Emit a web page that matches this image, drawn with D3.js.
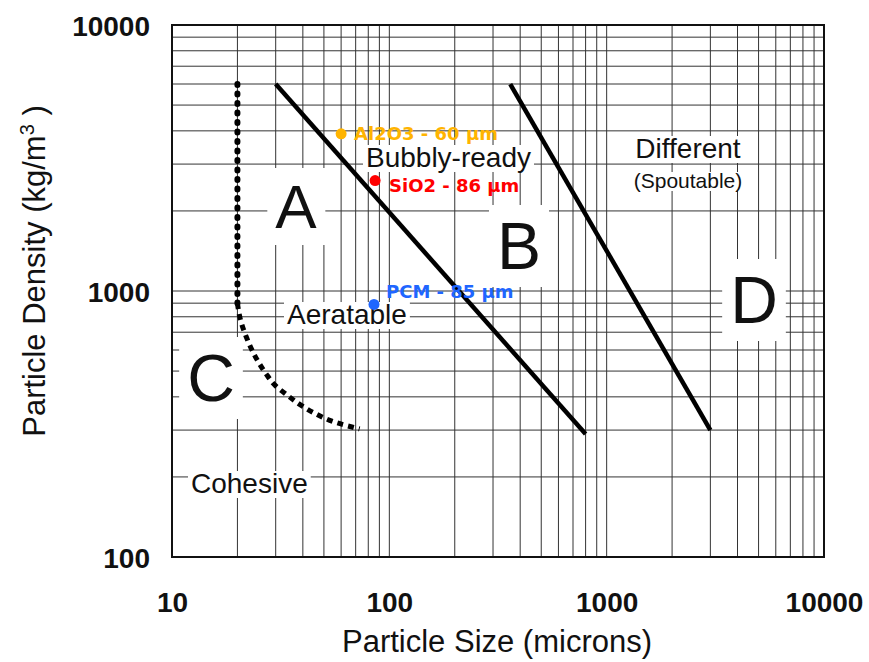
<!DOCTYPE html>
<html>
<head>
<meta charset="utf-8">
<script src="https://cdn.jsdelivr.net/npm/d3@7"></script>
<style>
  body { margin: 0; background: #fff; }
  text { font-family: "Liberation Sans", Arial, sans-serif; }
</style>
</head>
<body>
<div class="geldartChart"></div>
<script>
// axis ticks
const sizeTicks = [10, 100, 1000, 10000];
const densityTicks = [100, 1000, 10000];

// group boundaries (size in microns, density in kg/m3)
const abSizes = [30, 800];
const abDensities = [6000, 290];
const bdSizes = [360, 3000];
const bdDensities = [6000, 300];
const caStraightSizes = [20, 20];
const caStraightDensities = [6000, 900];
const caCurveSizes = [20, 20.5, 22, 25, 27, 30, 34, 39, 45, 57, 73];
const caCurveDensities = [900, 800, 670, 540, 490, 440, 405, 373, 348, 320, 303];

// tested powders
const powderNames = ["Al2O3 - 60 µm", "SiO2 - 86 µm", "PCM - 85 µm"];
const powderSizes = [60, 86, 85];
const powderDensities = [3900, 2600, 890];
const powderColors = ["#ffb400", "#ff0000", "#1f66ff"];

const W = 869, H = 662;
const margin = {top: 25, right: 45, bottom: 105, left: 172},
      width = W - margin.left - margin.right,
      height = H - margin.top - margin.bottom;

const svg = d3.select(".geldartChart")
    .append("svg")
    .attr("width", W)
    .attr("height", H);

const g = svg.append("g")
    .attr("transform", "translate(" + margin.left + "," + margin.top + ")");

const x = d3.scaleLog().domain([10, 10000]).range([0, width]);
const y = d3.scaleLog().domain([100, 10000]).range([height, 0]);

// log grid
g.append("g").selectAll("line")
    .data(x.ticks())
    .enter().append("line")
    .attr("x1", d => x(d)).attr("x2", d => x(d))
    .attr("y1", 0).attr("y2", height)
    .attr("stroke", "#333").attr("stroke-width", 1);
g.append("g").selectAll("line")
    .data(y.ticks())
    .enter().append("line")
    .attr("y1", d => y(d)).attr("y2", d => y(d))
    .attr("x1", 0).attr("x2", width)
    .attr("stroke", "#333").attr("stroke-width", 1);

g.append("rect")
    .attr("width", width).attr("height", height)
    .attr("fill", "none").attr("stroke", "#111").attr("stroke-width", 2);

// labels with white boxes (drawn before the boundary lines)
const labels = [
  {t: "A", px: 296, py: 228, size: 62, anchor: "middle"},
  {t: "B", px: 519, py: 269, size: 66, anchor: "middle"},
  {t: "C", px: 211, py: 401, size: 66, anchor: "middle"},
  {t: "D", px: 754, py: 323, size: 66, anchor: "middle"},
  {t: "Bubbly-ready", px: 366, py: 167, size: 28, anchor: "start"},
  {t: "Different", px: 688, py: 158, size: 28, anchor: "middle"},
  {t: "(Spoutable)", px: 688, py: 188, size: 21, anchor: "middle"},
  {t: "Aeratable", px: 287, py: 324, size: 28, anchor: "start"},
  {t: "Cohesive", px: 191, py: 493, size: 28, anchor: "start"}
];

const boxLayer = svg.append("g");
const textLayer = svg.append("g");
labels.forEach(l => {
  const t = textLayer.append("text")
      .attr("x", l.px).attr("y", l.py)
      .attr("text-anchor", l.anchor)
      .attr("font-size", l.size)
      .attr("fill", "#111")
      .text(l.t);
  const bb = t.node().getBBox();
  const pad = l.size > 40 ? 8 : 3;
  boxLayer.append("rect")
      .attr("x", bb.x - pad).attr("y", bb.y + (l.size > 40 ? -4 : 3))
      .attr("width", bb.width + 2 * pad).attr("height", bb.height + (l.size > 40 ? 8 : -4))
      .attr("fill", "#fff");
});

// boundaries
const line = d3.line().x(d => x(d[0])).y(d => y(d[1]));
const lines = svg.append("g")
    .attr("transform", "translate(" + margin.left + "," + margin.top + ")");

lines.append("path")
    .attr("d", line(d3.zip(abSizes, abDensities)))
    .attr("fill", "none").attr("stroke", "#000").attr("stroke-width", 4.5);
lines.append("path")
    .attr("d", line(d3.zip(bdSizes, bdDensities)))
    .attr("fill", "none").attr("stroke", "#000").attr("stroke-width", 4.5);
lines.append("path")
    .attr("d", line(d3.zip(caStraightSizes, caStraightDensities)))
    .attr("fill", "none").attr("stroke", "#000").attr("stroke-width", 6)
    .attr("stroke-linecap", "round").attr("stroke-dasharray", "1,8.5");
lines.append("path")
    .attr("d", d3.line().curve(d3.curveMonotoneY)
        .x(d => x(d[0])).y(d => y(d[1]))(d3.zip(caCurveSizes, caCurveDensities)))
    .attr("fill", "none").attr("stroke", "#000").attr("stroke-width", 5)
    .attr("stroke-dasharray", "6,5");

textLayer.raise();

// powders (label offsets from the dot)
const labelDx = [13, 14, 12];
const labelDy = [6, 11, -6];
const powders = d3.zip(powderNames, powderSizes, powderDensities, powderColors);
const pts = svg.append("g")
    .attr("transform", "translate(" + margin.left + "," + margin.top + ")")
    .selectAll("g")
    .data(powders)
    .enter().append("g");
pts.append("circle")
    .attr("cx", d => x(d[1])).attr("cy", d => y(d[2]))
    .attr("r", 5.5)
    .attr("fill", d => d[3]);
pts.append("text")
    .attr("x", (d, i) => x(d[1]) + labelDx[i]).attr("y", (d, i) => y(d[2]) + labelDy[i])
    .style("font-family", "'DejaVu Sans', Verdana, sans-serif")
    .style("font-weight", "bold")
    .style("font-size", "18px")
    .attr("fill", d => d[3])
    .text(d => d[0]);

// axes
const xAxis = svg.append("g")
    .attr("transform", "translate(" + margin.left + "," + (margin.top + height) + ")")
    .call(d3.axisBottom(x).tickValues(sizeTicks).tickFormat(d3.format("d")).tickSize(0));
xAxis.select(".domain").remove();
xAxis.selectAll("text")
    .attr("y", 55).attr("dy", 0)
    .style("font-family", "'Liberation Sans', Arial, sans-serif")
    .style("font-weight", "bold").style("font-size", "28px").attr("fill", "#111");

const yAxis = svg.append("g")
    .attr("transform", "translate(" + margin.left + "," + margin.top + ")")
    .call(d3.axisLeft(y).tickValues(densityTicks).tickFormat(d3.format("d")).tickSize(0));
yAxis.select(".domain").remove();
yAxis.selectAll("text")
    .attr("x", -22).attr("dy", "0.36em")
    .style("font-family", "'Liberation Sans', Arial, sans-serif")
    .style("font-weight", "bold").style("font-size", "28px").attr("fill", "#111");

// axis titles
svg.append("text")
    .attr("x", margin.left + width / 2 - 1).attr("y", 652)
    .attr("text-anchor", "middle")
    .attr("font-size", 31).attr("fill", "#111")
    .text("Particle Size (microns)");

const yt = svg.append("text")
    .attr("transform", "translate(45,271) rotate(-90)")
    .attr("text-anchor", "middle")
    .attr("font-size", 31).attr("fill", "#111");
yt.append("tspan").text("Particle Density (kg/m");
yt.append("tspan").attr("baseline-shift", "super").attr("font-size", 20).text("3");
yt.append("tspan").text(" )");
</script>
</body>
</html>
